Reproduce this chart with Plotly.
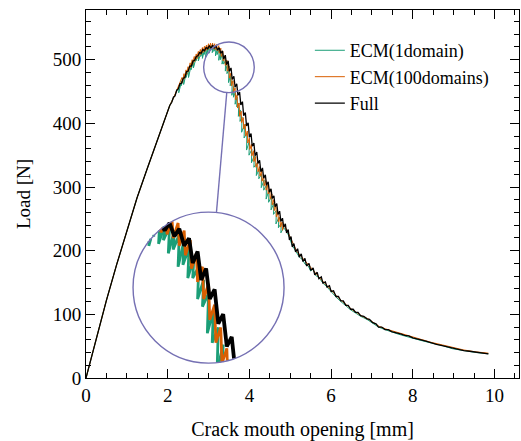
import math
import plotly.graph_objects as go

FONT = "Liberation Serif, Times New Roman, serif"

# ---- load vs crack mouth opening ------------------------------------------
FULL_X = [0.00, 0.25, 0.50, 0.75, 1.00, 1.25, 1.50, 1.75, 1.95, 2.05, 2.10, 2.14, 2.18, 2.22,
          2.26, 2.30, 2.34, 2.38, 2.42, 2.46, 2.50, 2.54, 2.58, 2.62, 2.66, 2.70, 2.74, 2.78,
          2.82, 2.86, 2.90, 2.94, 2.98, 3.02, 3.06, 3.10, 3.14, 3.18, 3.22, 3.26, 3.30, 3.34,
          3.37, 3.41, 3.44, 3.48, 3.51, 3.55, 3.58, 3.62, 3.65, 3.69, 3.72, 3.76, 3.79, 3.83,
          3.86, 3.90, 3.93, 3.97, 4.00, 4.04, 4.07, 4.11, 4.14, 4.18, 4.21, 4.25, 4.28, 4.32,
          4.35, 4.39, 4.42, 4.46, 4.49, 4.53, 4.56, 4.60, 4.63, 4.67, 4.70, 4.74, 4.77, 4.81,
          4.84, 4.88, 4.91, 4.95, 4.98, 5.02, 5.05, 5.09, 5.13, 5.18, 5.22, 5.27, 5.31, 5.36,
          5.40, 5.46, 5.50, 5.56, 5.60, 5.66, 5.70, 5.76, 5.80, 5.86, 5.90, 5.96, 6.00, 6.06,
          6.12, 6.18, 6.24, 6.30, 6.36, 6.42, 6.48, 6.54, 6.60, 6.66, 6.72, 6.80, 6.88, 6.94,
          7.02, 7.10, 7.16, 7.24, 7.32, 7.40, 7.48, 7.56, 7.64, 7.72, 7.80, 7.90, 8.00, 8.10,
          8.20, 8.32, 8.45, 8.58, 8.72, 8.85, 8.97, 9.10, 9.25, 9.39, 9.55, 9.70, 9.85]
FULL_Y = [0, 62, 122, 178, 232, 283, 329, 373, 410, 428, 433, 441, 443, 452,
          454, 462, 463, 471, 472, 481, 482, 490, 490, 498, 499, 505, 506, 511,
          510, 516, 514, 519, 517, 522, 518, 523, 518, 522, 515, 519, 510, 514,
          501, 507, 492, 498, 482, 487, 469, 474, 457, 462, 444, 449, 429, 434,
          412, 417, 396, 401, 378, 384, 364, 369, 349, 355, 337, 342, 324, 330,
          314, 319, 303, 308, 292, 297, 282, 286, 269, 274, 257, 262, 246, 251,
          237, 242, 228, 233, 217, 222, 206, 211, 198, 203, 190, 195, 183, 188,
          176, 180, 169, 173, 162, 166, 156, 159, 149, 151, 143, 145, 136, 137,
          128, 128, 121, 121, 114, 114, 108, 108, 103, 103, 98, 97, 93, 92,
          87, 85, 80, 80, 76, 76, 73, 72, 70, 69, 67, 66, 63, 62,
          60, 58, 55, 53, 51, 49, 47, 45, 43, 42, 41, 40, 38]

ECM1_X = [0.00, 0.25, 0.50, 0.75, 1.00, 1.25, 1.50, 1.75, 1.95, 2.05, 2.15, 2.22,
          2.28, 2.27, 2.34, 2.33, 2.40, 2.39, 2.46, 2.45, 2.52, 2.51, 2.58, 2.57, 2.64, 2.63,
          2.70, 2.69, 2.76, 2.75, 2.82, 2.81, 2.86, 2.85, 2.90, 2.89, 2.94, 2.93, 2.98, 2.97,
          3.02, 3.01, 3.06, 3.05, 3.10, 3.09, 3.14, 3.13, 3.18, 3.17, 3.22, 3.21, 3.26, 3.25,
          3.30, 3.29, 3.34, 3.33, 3.38, 3.37, 3.42, 3.41, 3.46, 3.45, 3.50, 3.49, 3.54, 3.53,
          3.58, 3.57, 3.62, 3.61, 3.66, 3.65, 3.70, 3.69, 3.74, 3.73, 3.78, 3.77, 3.82, 3.81,
          3.88, 3.87, 3.94, 3.93, 4.00, 3.99, 4.06, 4.05, 4.12, 4.11, 4.18, 4.17, 4.24, 4.23,
          4.30, 4.29, 4.36, 4.35, 4.42, 4.41, 4.48, 4.47, 4.54, 4.53, 4.60, 4.59, 4.66, 4.65,
          4.72, 4.71, 4.78, 4.77, 4.84,
          4.92, 4.98, 5.04, 5.10, 5.16, 5.22, 5.30, 5.36, 5.44, 5.50, 5.56, 5.62, 5.70, 5.80,
          5.90, 6.00, 6.12, 6.24, 6.36, 6.48, 6.60, 6.72, 6.88, 7.02, 7.16, 7.32, 7.48, 7.64,
          7.80, 8.00, 8.20, 8.45, 8.72, 8.97, 9.25, 9.55, 9.85]
ECM1_Y = [0, 62, 122, 178, 232, 283, 329, 373, 410, 428, 441, 451,
          458, 448, 466, 459, 473, 461, 480, 472, 486, 472, 493, 484, 498, 487,
          504, 498, 508, 498, 512, 505, 514, 502, 516, 508, 518, 504, 520, 511,
          521, 510, 521, 515, 522, 511, 521, 513, 520, 506, 518, 508, 516, 499,
          513, 500, 509, 493, 504, 493, 499, 482, 492, 478, 485, 464, 476, 459,
          467, 444, 458, 441, 450, 430, 441, 426, 432, 411, 421, 403, 410, 386,
          398, 377, 385, 358, 372, 350, 359, 338, 349, 331, 337, 318, 328, 313,
          320, 299, 311, 295, 303, 281, 295, 276, 285, 264, 275, 257, 263, 242,
          252, 236, 243, 228, 236,
          229, 221, 209, 203, 197, 190, 186, 179, 176, 168, 171, 161, 158, 149,
          143, 135, 127, 120, 113, 107, 102, 97, 92, 86, 80, 76, 72, 69,
          66, 62, 59, 55, 51, 46, 43, 40, 38]

ECM100_X = [0.00, 0.25, 0.50, 0.75, 1.00, 1.25, 1.50, 1.75, 1.95, 2.05, 2.15, 2.25, 2.30,
            2.35, 2.36, 2.40, 2.41, 2.45, 2.46, 2.50, 2.51, 2.55, 2.56, 2.60, 2.61, 2.65, 2.66,
            2.70, 2.71, 2.75, 2.76, 2.80, 2.81, 2.85, 2.86, 2.90, 2.91, 2.95, 2.96, 3.00, 3.01,
            3.05, 3.06, 3.10, 3.11, 3.15, 3.16, 3.20, 3.21, 3.25, 3.26, 3.30, 3.31, 3.35, 3.36,
            3.40, 3.41, 3.45, 3.46, 3.50, 3.51, 3.55, 3.56, 3.60, 3.61, 3.65, 3.66, 3.70, 3.71,
            3.75, 3.76, 3.80, 3.81, 3.85, 3.86, 3.90, 3.91, 3.95, 3.96, 4.00, 4.01, 4.05, 4.06,
            4.10, 4.11, 4.15, 4.16, 4.20, 4.21, 4.25, 4.26, 4.30, 4.31, 4.35, 4.36, 4.40, 4.41,
            4.45, 4.46, 4.50, 4.51, 4.55, 4.56, 4.60, 4.61, 4.65, 4.66, 4.70, 4.71, 4.75, 4.76,
            4.80, 4.81, 4.85,
            4.92, 5.00, 5.08, 5.16, 5.24, 5.34, 5.44, 5.54, 5.64, 5.74, 5.84, 5.94, 6.04, 6.16,
            6.28, 6.40, 6.52, 6.64, 6.76, 6.90, 7.04, 7.18, 7.34, 7.50, 7.66, 7.82, 8.00, 8.20,
            8.45, 8.72, 8.97, 9.25, 9.55, 9.85]
ECM100_Y = [0, 62, 122, 178, 232, 283, 329, 373, 410, 428, 441, 456, 463,
            472, 464, 478, 470, 484, 476, 489, 481, 495, 487, 500, 492, 505, 497,
            509, 501, 513, 505, 516, 508, 519, 511, 521, 513, 523, 515, 525, 517,
            526, 518, 526, 517, 525, 516, 524, 514, 522, 510, 518, 505, 513, 498,
            506, 491, 499, 482, 490, 471, 479, 459, 467, 448, 456, 437, 445, 424,
            432, 411, 419, 401, 409, 391, 399, 380, 388, 369, 377, 359, 367, 349,
            357, 340, 348, 331, 339, 324, 332, 317, 325, 309, 317, 302, 310, 295,
            303, 289, 297, 281, 289, 272, 280, 263, 271, 253, 261, 245, 253, 237,
            245, 232, 240,
            232, 220, 211, 199, 193, 186, 178, 171, 163, 156, 149, 142, 135, 127,
            120, 113, 107, 102, 97, 93, 87, 81, 77, 74, 70, 67, 64, 60,
            56, 52, 48, 44, 41, 39]

SERIES = [
    ("ECM(1domain)", ECM1_X, ECM1_Y, "#1b9e77", 1.0, 2.8),
    ("ECM(100domains)", ECM100_X, ECM100_Y, "#d95f02", 1.0, 2.8),
    ("Full", FULL_X, FULL_Y, "#000000", 1.3, 3.8),
]

X_TICKS = [0, 2, 4, 6, 8, 10]
Y_TICKS = [0, 100, 200, 300, 400, 500]

# ---- layout geometry ------------------------------------------------------
X_RANGE = [0, 10.6]
Y_RANGE = [0, 578]
MARGIN = dict(l=86, r=2, t=10, b=63)
FIG_W, FIG_H = 521, 441
PLOT_W = FIG_W - MARGIN["l"] - MARGIN["r"]
PLOT_H = FIG_H - MARGIN["t"] - MARGIN["b"]
SX = PLOT_W / (X_RANGE[1] - X_RANGE[0])   # px per mm
SY = PLOT_H / (Y_RANGE[1] - Y_RANGE[0])   # px per N

# magnifier: small circle on the peak, enlarged copy in the big circle
LENS_C = (3.50, 488.0)
LENS_R = 25.3          # px
INSET_C = (3.00, 142.0)
INSET_R = 75.5         # px
MAG = INSET_R / LENS_R
RING = "#7570b3"


def clip_to_lens(xs, ys):
    """Keep the parts of a polyline inside the lens, mapped into the inset."""
    cu, cv = LENS_C[0] * SX, LENS_C[1] * SY
    pts = [(x * SX - cu, y * SY - cv) for x, y in zip(xs, ys)]
    out_x, out_y = [], []
    last = None
    for (u0, v0), (u1, v1) in zip(pts[:-1], pts[1:]):
        du, dv = u1 - u0, v1 - v0
        a = du * du + dv * dv
        if a == 0:
            continue
        b = 2 * (u0 * du + v0 * dv)
        c = u0 * u0 + v0 * v0 - LENS_R ** 2
        disc = b * b - 4 * a * c
        if disc <= 0:
            continue
        sq = disc ** 0.5
        t0 = max(0.0, (-b - sq) / (2 * a))
        t1 = min(1.0, (-b + sq) / (2 * a))
        if t1 <= t0:
            continue
        p = (u0 + t0 * du, v0 + t0 * dv)
        q = (u0 + t1 * du, v0 + t1 * dv)
        if last is None or abs(last[0] - p[0]) > 1e-9 or abs(last[1] - p[1]) > 1e-9:
            if out_x:
                out_x.append(None)
                out_y.append(None)
            out_x.append(INSET_C[0] + MAG * p[0] / SX)
            out_y.append(INSET_C[1] + MAG * p[1] / SY)
        out_x.append(INSET_C[0] + MAG * q[0] / SX)
        out_y.append(INSET_C[1] + MAG * q[1] / SY)
        last = q
    return out_x, out_y


fig = go.Figure()

for name, xs, ys, color, width, _ in SERIES:
    fig.add_trace(go.Scatter(x=xs, y=ys, mode="lines", name=name,
                             line=dict(color=color, width=width)))

for name, xs, ys, color, _, inset_width in SERIES:
    ix, iy = clip_to_lens(xs, ys)
    fig.add_trace(go.Scatter(x=ix, y=iy, mode="lines", showlegend=False,
                             hoverinfo="skip",
                             line=dict(color=color, width=inset_width)))


def ring(center, r_px):
    cx, cy = center
    return dict(type="circle", xref="x", yref="y",
                x0=cx - r_px / SX, x1=cx + r_px / SX,
                y0=cy - r_px / SY, y1=cy + r_px / SY,
                line=dict(color=RING, width=1.4), layer="above")


a_lens = math.radians(-95)
a_inset = math.radians(84)
connector = dict(
    type="line", xref="x", yref="y",
    x0=LENS_C[0] + LENS_R * math.cos(a_lens) / SX,
    y0=LENS_C[1] + LENS_R * math.sin(a_lens) / SY,
    x1=INSET_C[0] + INSET_R * math.cos(a_inset) / SX,
    y1=INSET_C[1] + INSET_R * math.sin(a_inset) / SY,
    line=dict(color=RING, width=1.4), layer="above")

fig.update_layout(shapes=[ring(LENS_C, LENS_R), ring(INSET_C, INSET_R), connector])

axis_common = dict(
    showline=True, linecolor="black", linewidth=1, mirror="allticks",
    ticks="inside", ticklen=9, tickwidth=1, tickcolor="black",
    showgrid=False, zeroline=False,
    tickfont=dict(family=FONT, size=19, color="black"),
)

fig.update_xaxes(range=X_RANGE, tickvals=X_TICKS, ticktext=[str(v) for v in X_TICKS],
                 minor=dict(dtick=0.5, tick0=0, ticks="inside", ticklen=5,
                            tickcolor="black", tickwidth=1),
                 title=dict(text="Crack mouth opening [mm]", standoff=18,
                            font=dict(family=FONT, size=20, color="black")),
                 **axis_common)
fig.update_yaxes(range=Y_RANGE, tickvals=Y_TICKS, ticktext=[str(v) for v in Y_TICKS],
                 minor=dict(dtick=20, tick0=0, ticks="inside", ticklen=5,
                            tickcolor="black", tickwidth=1),
                 title=dict(text="Load [N]", standoff=17,
                            font=dict(family=FONT, size=19, color="black")),
                 **axis_common)

fig.update_layout(
    width=FIG_W, height=FIG_H, margin=MARGIN,
    paper_bgcolor="white", plot_bgcolor="white",
    font=dict(family=FONT, size=18, color="black"),
    legend=dict(x=0.517, y=0.94, xanchor="left", yanchor="top",
                bgcolor="rgba(0,0,0,0)", font=dict(family=FONT, size=18),
                tracegroupgap=0),
)

fig.write_html("out.html")
